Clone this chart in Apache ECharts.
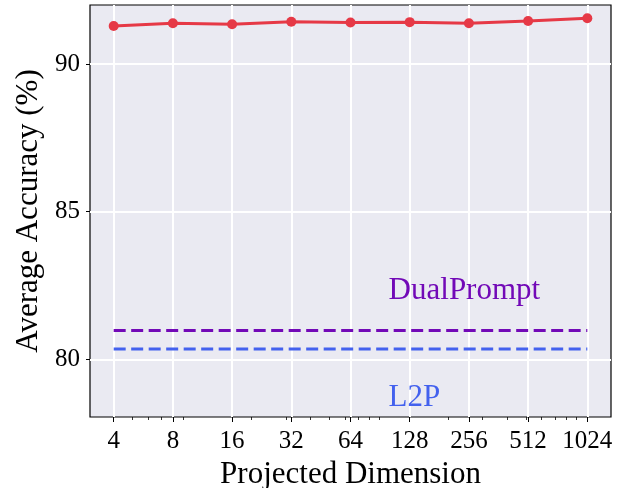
<!DOCTYPE html>
<html>
<head>
<meta charset="utf-8">
<script src="https://cdn.jsdelivr.net/npm/echarts@6/dist/echarts.min.js"></script>
<style>
html,body{margin:0;padding:0;background:#fff;}
#chart{width:620px;height:488px;}
</style>
</head>
<body>
<div id="chart"></div>
<script>
// ---- data ----
const dims = [4, 8, 16, 32, 64, 128, 256, 512, 1024];
const oursAcc = [91.29, 91.38, 91.35, 91.43, 91.41, 91.42, 91.38, 91.46, 91.55];
const dualPromptAcc = 80.98;
const l2pAcc = 80.35;
const yTicks = [80, 85, 90];
const xMinorTicks = [4, 5, 6, 7, 8, 9, 20, 30, 40, 50, 60, 70, 80, 90, 200, 300, 400, 500, 600, 700, 800, 900];
const annoText = ['DualPrompt', 'L2P'];
const annoX = [100, 100];
const annoY = [82.33, 78.70];
const annoColor = ['#7209b7', '#4361ee'];

const FONT = "'Liberation Serif', 'Times New Roman', serif";
const lg = v => Math.log2(v);
const xMin = lg(dims[0]) - 0.05 * (lg(dims[dims.length - 1]) - lg(dims[0]));
const xMax = lg(dims[dims.length - 1]) + 0.05 * (lg(dims[dims.length - 1]) - lg(dims[0]));

const chart = echarts.init(document.getElementById('chart'));
chart.setOption({
  animation: false,
  backgroundColor: '#ffffff',
  grid: {
    left: 90, top: 5, right: 9, bottom: 71,
    show: true, backgroundColor: '#eaeaf2', borderColor: '#000', borderWidth: 1.2,
    containLabel: false, outerBoundsMode: 'none'
  },
  xAxis: [{
    type: 'value', min: xMin, max: xMax, position: 'bottom',
    name: 'Projected Dimension', nameLocation: 'middle', nameGap: 40,
    nameTextStyle: { fontFamily: FONT, fontSize: 31, color: '#000' },
    axisLine: { show: false },
    axisTick: { show: true, customValues: dims.map(lg), length: 5, lineStyle: { color: '#000', width: 1 } },
    axisLabel: { show: true, customValues: dims.map(lg), margin: 12,
      formatter: v => String(Math.round(Math.pow(2, v))),
      fontFamily: FONT, fontSize: 25, color: '#000' },
    splitLine: { show: true, lineStyle: { color: '#ffffff', width: 2 } }
  }, {
    type: 'value', min: xMin, max: xMax, position: 'bottom', gridIndex: 0,
    axisLine: { show: false },
    axisTick: { show: true, customValues: xMinorTicks.map(lg), length: 3, lineStyle: { color: '#000', width: 0.8 } },
    axisLabel: { show: false },
    splitLine: { show: false }
  }],
  yAxis: {
    type: 'value', min: 78.05, max: 92.0,
    name: 'Average Accuracy (%)', nameLocation: 'middle', nameGap: 46,
    nameTextStyle: { fontFamily: FONT, fontSize: 31, color: '#000' },
    axisLine: { show: false },
    axisTick: { show: true, customValues: yTicks, length: 4, lineStyle: { color: '#000', width: 1 } },
    axisLabel: { show: true, customValues: yTicks, margin: 10, fontFamily: FONT, fontSize: 25, color: '#000' },
    splitLine: { show: true, lineStyle: { color: '#ffffff', width: 2 } }
  },
  series: [{
    name: 'DualPrompt', type: 'line', xAxisIndex: 0,
    data: [[lg(dims[0]), dualPromptAcc], [lg(dims[dims.length - 1]), dualPromptAcc]],
    symbol: 'none', lineStyle: { color: '#7209b7', width: 3, type: [12, 5.5] }, z: 3
  }, {
    name: 'L2P', type: 'line', xAxisIndex: 0,
    data: [[lg(dims[0]), l2pAcc], [lg(dims[dims.length - 1]), l2pAcc]],
    symbol: 'none', lineStyle: { color: '#4361ee', width: 3, type: [12, 5.5] }, z: 3
  }, {
    name: 'Ours', type: 'line', xAxisIndex: 0,
    data: dims.map((d, i) => [lg(d), oursAcc[i]]),
    symbol: 'circle', symbolSize: 10, showSymbol: true,
    lineStyle: { color: '#e63946', width: 3 }, itemStyle: { color: '#e63946' }, z: 4
  }, {
    name: 'annotations', type: 'scatter', xAxisIndex: 0, symbolSize: 0, silent: true,
    itemStyle: { opacity: 1 },
    data: annoText.map((t, i) => ({
      value: [lg(annoX[i]), annoY[i]],
      label: { show: true, formatter: t, position: [0, 0], align: 'left', verticalAlign: 'middle',
        fontFamily: FONT, fontSize: 31, color: annoColor[i], opacity: 1 }
    })),
    z: 5
  }]
});
</script>
</body>
</html>
